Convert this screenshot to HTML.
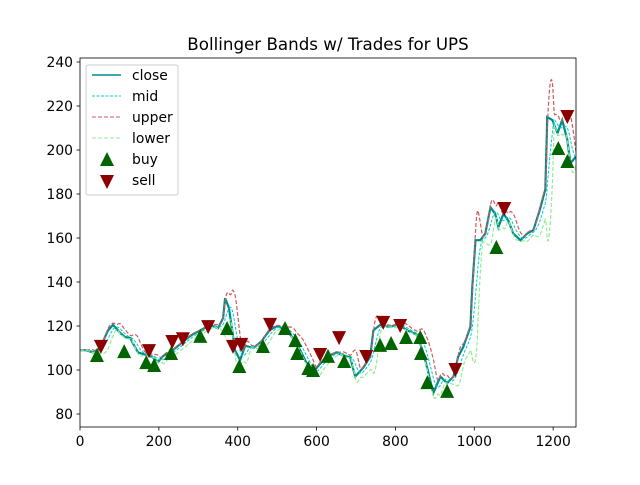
<!DOCTYPE html>
<html><head><meta charset="utf-8"><style>
body{margin:0;background:#fff;font-family:"Liberation Sans","DejaVu Sans",sans-serif}
svg text{font-family:"DejaVu Sans","Liberation Sans",sans-serif;font-size:13.9px;fill:#000}
</style></head><body>
<svg id="c" width="640" height="480">
<rect width="640" height="480" fill="#fff"/>
<text x="328" y="50" text-anchor="middle" style="font-size:16.7px">Bollinger Bands w/ Trades for UPS</text>
<g id="plot"></g>
<rect x="80" y="58" width="496" height="369" fill="none" stroke="#000" stroke-width="0.8"/>
<g id="axes"></g>
<g>
<rect x="86" y="65" width="92" height="130" rx="2" fill="#fff" fill-opacity="0.8" stroke="#ccc"/>
<line x1="92" y1="75" x2="121" y2="75" stroke="#008b8b" stroke-width="1.5"/><text x="132" y="80">close</text>
<line x1="92" y1="96" x2="121" y2="96" stroke="#00ced1" stroke-dasharray="3,1.5"/><text x="132" y="101">mid</text>
<line x1="92" y1="117" x2="121" y2="117" stroke="#cd5c5c" stroke-dasharray="4,2"/><text x="132" y="122">upper</text>
<line x1="92" y1="138" x2="121" y2="138" stroke="#90ee90" stroke-dasharray="4,2"/><text x="132" y="143">lower</text>
<path d="M107,152 L114,166 L100,166Z" fill="#006400"/><text x="132" y="164">buy</text>
<path d="M100,175 L114,175 L107,189Z" fill="#8b0000"/><text x="132" y="185">sell</text>
</g>
</svg>
<script>
const keyDays=[0,15,33,51,71,84,101,114,127,147,165,183,198,211,228,249,266,284,305,330,350,363,368,378,386,393,406,419,440,460,480,500,525,550,575,590,600,625,650,675,685,698,718,736,744,761,787,805,830,855,871,888,896,914,931,947,959,972,990,995,1003,1015,1028,1041,1053,1061,1074,1086,1099,1117,1134,1150,1168,1180,1185,1198,1211,1223,1236,1244,1251,1258];
const keyClose=[109,109,108,110,118,120.5,117,115,114.5,108,107,106,103.6,106.4,108,111,113.6,116,118,120.5,119,123.6,132.7,128,118,109,104.5,111,110,113,118,120,118,112,103,98,101,106,108,106,106,97,101,106,118,120.5,119.5,121,118,116,107.7,95.5,89.5,97,94,97,106,110.5,119.5,137.7,159,159,162,174,171,165,171,168,162,159,162,163.6,174,182,215,213.6,207.7,213.6,204.5,194,195.5,197];
const buyDays=[43,112,168,188,231,305,373,404,464,520,546,551,579,591,629,670,761,789,827,863,865,881,931,1056,1213,1236];
const buyPrices=[106.8,108.6,103.6,102.3,107.7,115.5,119.1,101.8,110.9,119.1,113.6,107.7,100.9,100,106.4,104.1,111.4,112.3,115,115,107.7,94.5,90.5,155.9,200.9,195];
const sellDays=[53,175,234,261,325,388,409,482,609,657,726,769,812,952,1076,1236];
const sellPrices=[110.5,108.6,112.7,114,119.5,110.5,111.4,120.5,106.8,114.5,105.9,121.4,120,100,173.2,215];
const xTicks=[0,200,400,600,800,1000,1200];
const yTicks=[80,100,120,140,160,180,200,220,240];
const X=d=>80+d*0.3943, Y=v=>62+(240-v)*2.2;
const NS='http://www.w3.org/2000/svg';
const plot=document.getElementById('plot'), axes=document.getElementById('axes');
function mk(tag,attrs,parent){const e=document.createElementNS(NS,tag);for(const k in attrs)e.setAttribute(k,attrs[k]);parent.appendChild(e);return e;}
const close=[];
for(let i=0;i<keyDays.length-1;i++){for(let d=keyDays[i];d<keyDays[i+1];d++){const t=(d-keyDays[i])/(keyDays[i+1]-keyDays[i]);close.push(keyClose[i]+t*(keyClose[i+1]-keyClose[i]));}}
close.push(keyClose[keyClose.length-1]);
const mid=[],up=[],lo=[];
for(let i=0;i<close.length;i++){const w=close.slice(Math.max(0,i-19),i+1);const m=w.reduce((a,b)=>a+b,0)/w.length;const s=Math.sqrt(w.reduce((a,b)=>a+(b-m)*(b-m),0)/w.length);mid.push(m);up.push(m+2*s);lo.push(m-2*s);}
function path(arr){return arr.map((v,i)=>(i?'L':'M')+X(i).toFixed(1)+','+Y(v).toFixed(1)).join('');}
const cp=mk('clipPath',{id:'clip'},plot);mk('rect',{x:80,y:58,width:496,height:369},cp);
const g=mk('g',{'clip-path':'url(#clip)'},plot);
const pc=mk('path',{d:path(close),fill:'none',stroke:'#008b8b','stroke-width':2.2},g);


const pm=mk('path',{d:path(mid),fill:'none',stroke:'#00ced1','stroke-dasharray':'3,1.5'},g);


const pu=mk('path',{d:path(up),fill:'none',stroke:'#cd5c5c','stroke-dasharray':'4,2','stroke-width':1.2},g);


const pl=mk('path',{d:path(lo),fill:'none',stroke:'#90ee90','stroke-dasharray':'4,2','stroke-width':1.2},g);


buyDays.forEach((d,i)=>{const x=X(d),y=Y(buyPrices[i]);const t=mk('path',{d:`M${x},${y-7}L${x+7},${y+7}L${x-7},${y+7}Z`,fill:'#006400'},g);

});
sellDays.forEach((d,i)=>{const x=X(d),y=Y(sellPrices[i]);const t=mk('path',{d:`M${x-7},${y-7}L${x+7},${y-7}L${x},${y+7}Z`,fill:'#8b0000'},g);

});
xTicks.forEach(v=>{const x=X(v);mk('line',{x1:x,y1:427,x2:x,y2:430.5,stroke:'#000','stroke-width':0.8},axes);const t=mk('text',{x:x,y:446,'text-anchor':'middle'},axes);t.textContent=v;

});
yTicks.forEach(v=>{const y=Y(v);mk('line',{x1:76.5,y1:y,x2:80,y2:y,stroke:'#000','stroke-width':0.8},axes);const t=mk('text',{x:73,y:y+5,'text-anchor':'end'},axes);t.textContent=v;

});
</script>
</body></html>
